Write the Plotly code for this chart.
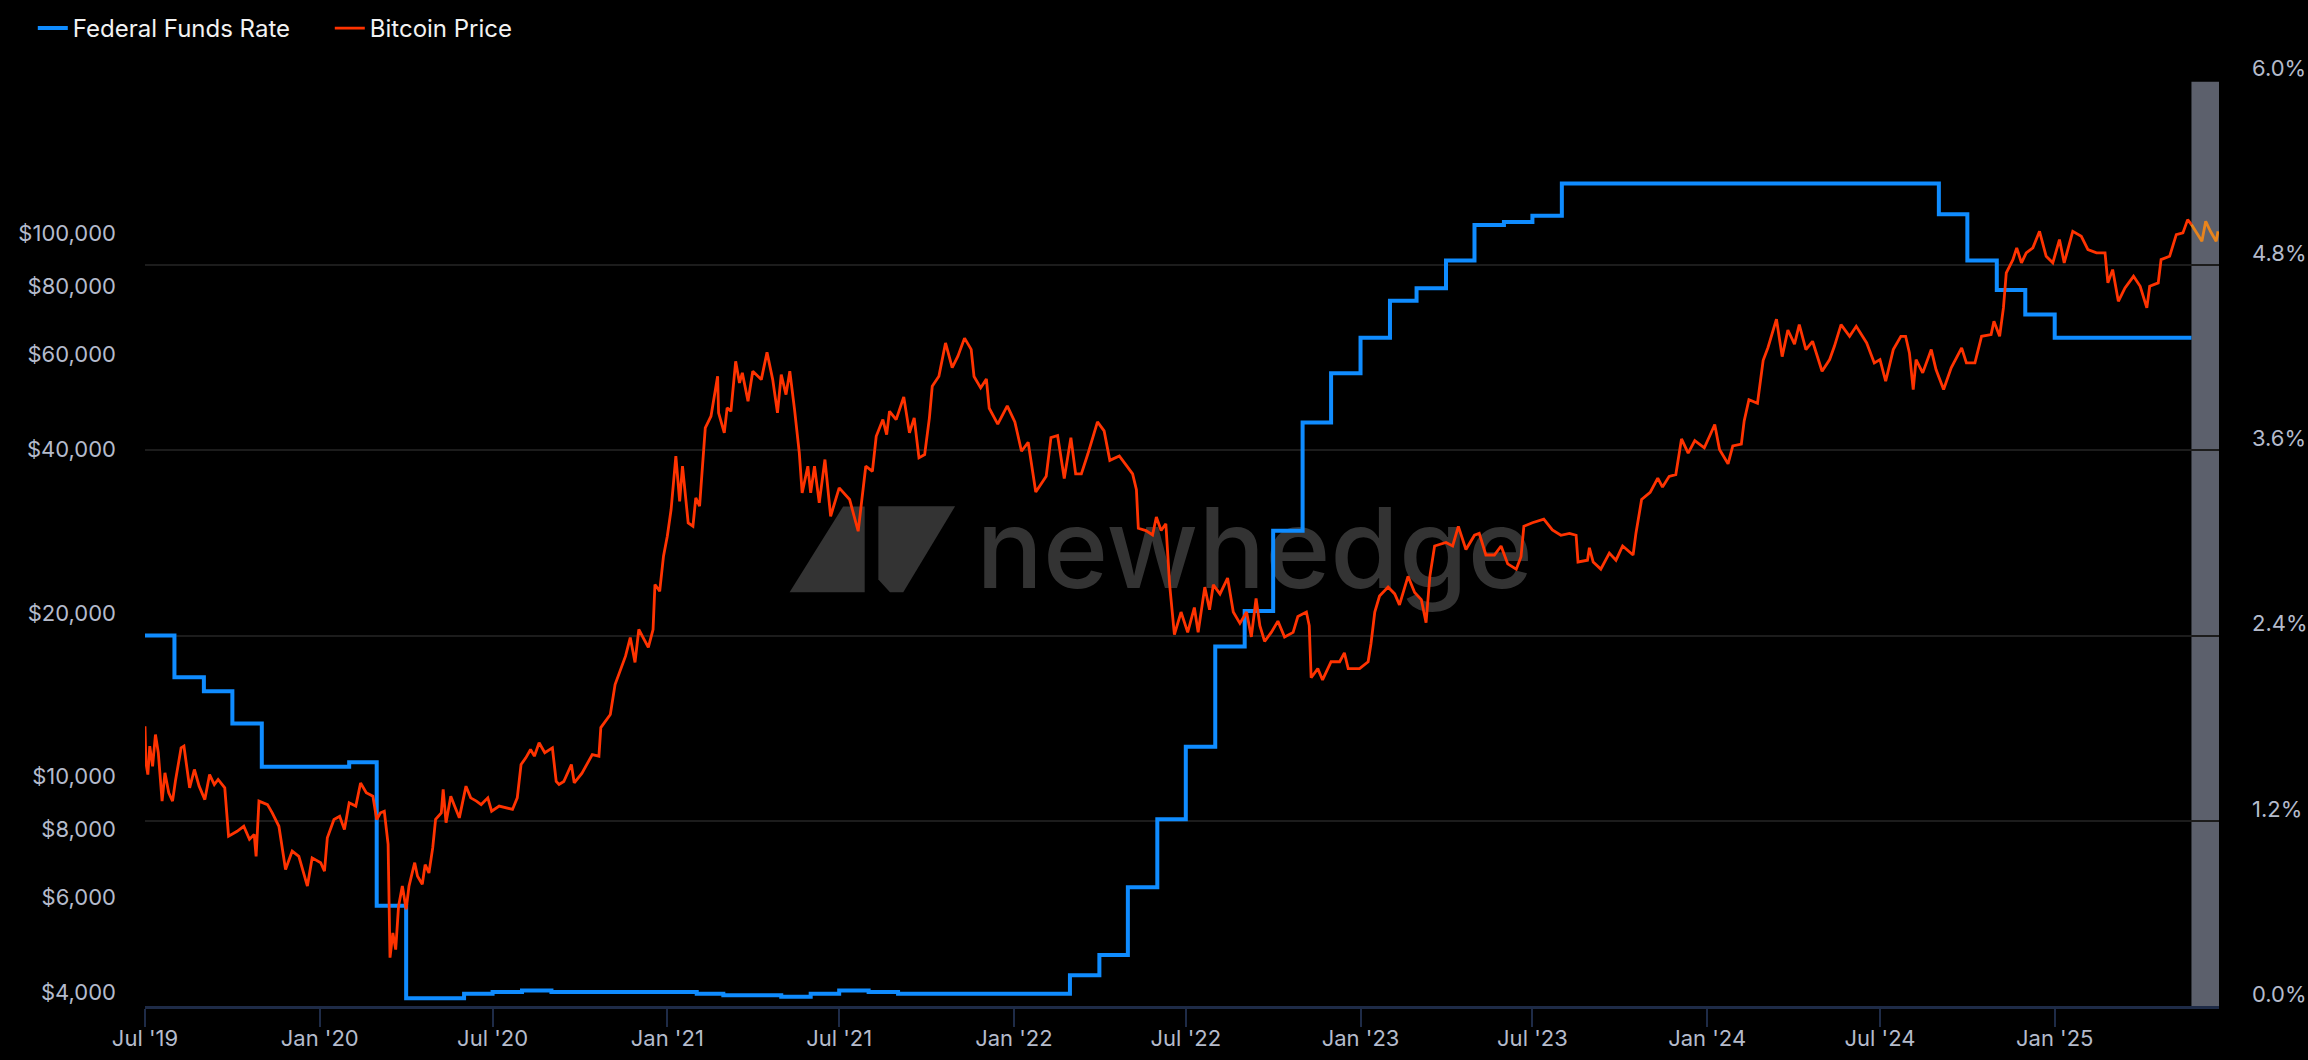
import plotly.graph_objects as go

# ---------------- data ----------------
ffr_dates = [
    "2019-07-01", "2019-08-01", "2019-09-01", "2019-10-01", "2019-11-01", "2019-12-01",
    "2020-01-01", "2020-02-01", "2020-03-01", "2020-04-01", "2020-05-01", "2020-06-01",
    "2020-07-01", "2020-08-01", "2020-09-01", "2020-10-01", "2020-11-01", "2020-12-01",
    "2021-01-01", "2021-02-01", "2021-03-01", "2021-04-01", "2021-05-01", "2021-06-01",
    "2021-07-01", "2021-08-01", "2021-09-01", "2021-10-01", "2021-11-01", "2021-12-01",
    "2022-01-01", "2022-02-01", "2022-03-01", "2022-04-01", "2022-05-01", "2022-06-01",
    "2022-07-01", "2022-08-01", "2022-09-01", "2022-10-01", "2022-11-01", "2022-12-01",
    "2023-01-01", "2023-02-01", "2023-03-01", "2023-04-01", "2023-05-01", "2023-06-01",
    "2023-07-01", "2023-08-01", "2023-09-01", "2023-10-01", "2023-11-01", "2023-12-01",
    "2024-01-01", "2024-02-01", "2024-03-01", "2024-04-01", "2024-05-01", "2024-06-01",
    "2024-07-01", "2024-08-01", "2024-09-01", "2024-10-01", "2024-11-01", "2024-12-01",
    "2025-01-01", "2025-02-01", "2025-03-01", "2025-04-01", "2025-05-01", "2025-05-25",
]
ffr_values = [
    2.40, 2.13, 2.04, 1.83, 1.55, 1.55,
    1.55, 1.58, 0.65, 0.05, 0.05, 0.08,
    0.09, 0.10, 0.09, 0.09, 0.09, 0.09,
    0.09, 0.08, 0.07, 0.07, 0.06, 0.08,
    0.10, 0.09, 0.08, 0.08, 0.08, 0.08,
    0.08, 0.08, 0.20, 0.33, 0.77, 1.21,
    1.68, 2.33, 2.56, 3.08, 3.78, 4.10,
    4.33, 4.57, 4.65, 4.83, 5.06, 5.08,
    5.12, 5.33, 5.33, 5.33, 5.33, 5.33,
    5.33, 5.33, 5.33, 5.33, 5.33, 5.33,
    5.33, 5.33, 5.13, 4.83, 4.64, 4.48,
    4.33, 4.33, 4.33, 4.33, 4.33, 4.33,
]

btc_dates = [
    "2019-07-01", "2019-07-02", "2019-07-04", "2019-07-06", "2019-07-09", "2019-07-12", "2019-07-15",
    "2019-07-19", "2019-07-22", "2019-07-26", "2019-07-30", "2019-08-02", "2019-08-08", "2019-08-11",
    "2019-08-17", "2019-08-22", "2019-08-27", "2019-09-02", "2019-09-07", "2019-09-12", "2019-09-16",
    "2019-09-23", "2019-09-27", "2019-10-06", "2019-10-13", "2019-10-19", "2019-10-24", "2019-10-26",
    "2019-10-29", "2019-11-07", "2019-11-12", "2019-11-19", "2019-11-26", "2019-12-03", "2019-12-10",
    "2019-12-19", "2019-12-24", "2020-01-02", "2020-01-06", "2020-01-09", "2020-01-16", "2020-01-22",
    "2020-01-27", "2020-02-01", "2020-02-08", "2020-02-13", "2020-02-19", "2020-02-26", "2020-03-01",
    "2020-03-05", "2020-03-09", "2020-03-13", "2020-03-15", "2020-03-18", "2020-03-21", "2020-03-24",
    "2020-03-28", "2020-04-01", "2020-04-04", "2020-04-10", "2020-04-13", "2020-04-18", "2020-04-21",
    "2020-04-25", "2020-04-29", "2020-05-02", "2020-05-08", "2020-05-10", "2020-05-13", "2020-05-18",
    "2020-05-22", "2020-05-27", "2020-06-03", "2020-06-08", "2020-06-14", "2020-06-19", "2020-06-26",
    "2020-06-30", "2020-07-08", "2020-07-15", "2020-07-22", "2020-07-27", "2020-07-31", "2020-08-05",
    "2020-08-10", "2020-08-14", "2020-08-19", "2020-08-25", "2020-09-02", "2020-09-06", "2020-09-09",
    "2020-09-14", "2020-09-22", "2020-09-25", "2020-10-03", "2020-10-14", "2020-10-21", "2020-10-23",
    "2020-11-02", "2020-11-07", "2020-11-18", "2020-11-23", "2020-11-28", "2020-12-02", "2020-12-12",
    "2020-12-17", "2020-12-19", "2020-12-24", "2020-12-28", "2021-01-01", "2021-01-05", "2021-01-10",
    "2021-01-14", "2021-01-17", "2021-01-23", "2021-01-28", "2021-01-31", "2021-02-04", "2021-02-07",
    "2021-02-10", "2021-02-16", "2021-02-23", "2021-02-24", "2021-03-02", "2021-03-05", "2021-03-09",
    "2021-03-14", "2021-03-18", "2021-03-21", "2021-03-27", "2021-04-01", "2021-04-10", "2021-04-16",
    "2021-04-22", "2021-04-27", "2021-05-01", "2021-05-06", "2021-05-10", "2021-05-15", "2021-05-20",
    "2021-05-23", "2021-05-29", "2021-06-01", "2021-06-05", "2021-06-10", "2021-06-16", "2021-06-22",
    "2021-07-01", "2021-07-12", "2021-07-21", "2021-07-29", "2021-08-05", "2021-08-09", "2021-08-16",
    "2021-08-20", "2021-08-23", "2021-08-30", "2021-09-07", "2021-09-13", "2021-09-18", "2021-09-23",
    "2021-09-29", "2021-10-04", "2021-10-07", "2021-10-14", "2021-10-21", "2021-10-28", "2021-11-03",
    "2021-11-10", "2021-11-17", "2021-11-20", "2021-11-27", "2021-12-03", "2021-12-06", "2021-12-15",
    "2021-12-25", "2022-01-02", "2022-01-09", "2022-01-16", "2022-01-24", "2022-02-04", "2022-02-09",
    "2022-02-16", "2022-02-23", "2022-03-02", "2022-03-07", "2022-03-13", "2022-03-20", "2022-03-30",
    "2022-04-06", "2022-04-12", "2022-04-22", "2022-04-29", "2022-05-06", "2022-05-10", "2022-05-12",
    "2022-05-20", "2022-05-27", "2022-05-31", "2022-06-05", "2022-06-10", "2022-06-14", "2022-06-19",
    "2022-06-26", "2022-07-03", "2022-07-10", "2022-07-14", "2022-07-21", "2022-07-26", "2022-07-30",
    "2022-08-06", "2022-08-14", "2022-08-20", "2022-08-27", "2022-09-03", "2022-09-08", "2022-09-13",
    "2022-09-17", "2022-09-22", "2022-09-29", "2022-10-06", "2022-10-13", "2022-10-22", "2022-10-27",
    "2022-11-05", "2022-11-08", "2022-11-10", "2022-11-17", "2022-11-22", "2022-12-01", "2022-12-10",
    "2022-12-15", "2022-12-19", "2022-12-31", "2023-01-09", "2023-01-12", "2023-01-16", "2023-01-21",
    "2023-01-30", "2023-02-06", "2023-02-11", "2023-02-20", "2023-02-27", "2023-03-06", "2023-03-11",
    "2023-03-15", "2023-03-20", "2023-04-01", "2023-04-08", "2023-04-14", "2023-04-22", "2023-05-01",
    "2023-05-06", "2023-05-13", "2023-05-22", "2023-05-29", "2023-06-05", "2023-06-14", "2023-06-19",
    "2023-06-22", "2023-07-01", "2023-07-13", "2023-07-22", "2023-07-31", "2023-08-09", "2023-08-16",
    "2023-08-18", "2023-08-28", "2023-08-30", "2023-09-03", "2023-09-11", "2023-09-20", "2023-09-27",
    "2023-10-04", "2023-10-15", "2023-10-18", "2023-10-24", "2023-11-02", "2023-11-10", "2023-11-15",
    "2023-11-22", "2023-11-29", "2023-12-05", "2023-12-12", "2023-12-19", "2023-12-29", "2024-01-04",
    "2024-01-09", "2024-01-14", "2024-01-23", "2024-01-28", "2024-02-06", "2024-02-09", "2024-02-14",
    "2024-02-23", "2024-02-29", "2024-03-05", "2024-03-14", "2024-03-20", "2024-03-26", "2024-04-02",
    "2024-04-07", "2024-04-14", "2024-04-21", "2024-05-01", "2024-05-09", "2024-05-14", "2024-05-21",
    "2024-05-30", "2024-06-06", "2024-06-17", "2024-06-25", "2024-07-01", "2024-07-07", "2024-07-15",
    "2024-07-23", "2024-07-28", "2024-08-01", "2024-08-05", "2024-08-08", "2024-08-15", "2024-08-24",
    "2024-08-29", "2024-09-06", "2024-09-14", "2024-09-25", "2024-09-30", "2024-10-09", "2024-10-16",
    "2024-10-26", "2024-10-29", "2024-11-04", "2024-11-08", "2024-11-11", "2024-11-18", "2024-11-22",
    "2024-11-27", "2024-12-02", "2024-12-09", "2024-12-16", "2024-12-23", "2024-12-30", "2025-01-06",
    "2025-01-11", "2025-01-20", "2025-01-29", "2025-02-05", "2025-02-14", "2025-02-23", "2025-02-26",
    "2025-03-03", "2025-03-09", "2025-03-16", "2025-03-25", "2025-04-01", "2025-04-08", "2025-04-11",
    "2025-04-20", "2025-04-23", "2025-05-02", "2025-05-09", "2025-05-16", "2025-05-21", "2025-05-25",
]
btc_prices = [
    13020, 11150, 10610, 11970, 10990, 12570, 11640,
    9480, 10690, 9820, 9480, 10310, 11880, 11970,
    10030, 10840, 10100, 9540, 10610, 10170, 10390,
    10030, 8170, 8340, 8520, 8060, 8230, 7500,
    9480, 9340, 9020, 8520, 7090, 7670, 7500,
    6610, 7450, 7300, 7040, 8110, 8770, 8890,
    8400, 9410, 9280, 10240, 9820, 9680, 8770,
    9020, 9080, 7890, 4880, 5420, 5050, 6070,
    6610, 5990, 6610, 7300, 6890, 6660, 7240,
    6990, 7780, 8770, 9020, 9960, 8650, 9680,
    9280, 8830, 10100, 9610, 9480, 9340, 9610,
    9080, 9280, 9210, 9150, 9610, 11070, 11390,
    11800, 11470, 12140, 11640, 11880, 10310, 10170,
    10300, 11070, 10240, 10660, 11550, 11470, 12950,
    13690, 15540, 17530, 18970, 17070, 19630, 18190,
    19630, 23760, 23090, 26790, 29160, 32660, 40940,
    33820, 39240, 30860, 30420, 34320, 33120, 38970,
    46180, 48510, 57470, 49210, 45210, 50260, 49540,
    61250, 55880, 58310, 51690, 58700, 56670, 63630,
    56670, 49210, 57890, 53180, 58700, 49900, 41530,
    35050, 39240, 35050, 39240, 33600, 40370, 31740,
    35800, 34070, 29780, 39240, 38410, 44560, 47830,
    44880, 49540, 47830, 52660, 45210, 48180, 40660,
    41230, 48180, 55080, 57470, 66210, 59630, 62590,
    67570, 64420, 57400, 54710, 56840, 50180, 46930,
    50670, 47370, 41810, 43440, 35170, 37620, 44300,
    44710, 37260, 44300, 37980, 37980, 41410, 47370,
    45590, 40230, 41000, 39470, 37980, 35510, 30160,
    29870, 29310, 31640, 29870, 30740, 23730, 19210,
    21140, 19390, 21550, 19390, 23500, 21350, 23730,
    22830, 24420, 21140, 20150, 21140, 19020, 22400,
    19960, 18660, 19390, 20340, 19020, 19390, 20740,
    21140, 19960, 16000, 16630, 15850, 17120, 17120,
    17780, 16630, 16630, 17120, 18480, 21140, 22620,
    23500, 22830, 21790, 24600, 22970, 22290, 20200,
    24600, 27980, 28400, 27980, 30410, 27560, 29280,
    29510, 26930, 26930, 27980, 25930, 25360, 26740,
    30410, 30870, 31350, 29950, 29280, 29510, 29280,
    26140, 26340, 27770, 26140, 25360, 27140, 26340,
    27980, 26930, 29510, 34070, 35110, 37310, 35920,
    37590, 37880, 44070, 41480, 43730, 42440, 44750,
    46830, 42110, 39640, 42760, 43090, 47550, 52060,
    51270, 61510, 64860, 73220, 62460, 69940, 65860,
    71560, 64370, 66670, 58700, 61690, 65270, 71560,
    68100, 71050, 66210, 60830, 61690, 56270, 64370,
    68100, 68100, 63470, 54320, 61690, 58310, 64370,
    59130, 54320, 59550, 64830, 60830, 60830, 68100,
    68590, 72570, 68100, 76820, 89110, 94280, 99080,
    92980, 97000, 99080, 106300, 95610, 92980, 102620,
    92980, 106300, 104070, 98370, 97000, 97000, 85410,
    90360, 79000, 83620, 87830, 84190, 76820, 84190,
    85410, 94280, 95610, 104820, 105580, 111710, 109370,
]

btc_recent_dates = ["2025-05-25", "2025-06-01", "2025-06-05", "2025-06-09", "2025-06-14", "2025-06-20", "2025-06-22"]
btc_recent_prices = [109370, 104820, 101890, 110910, 106300, 101890, 106300]

x_range = ["2019-07-01", "2025-06-23"]
recent_window_start = "2025-05-25"

x_tick_vals = ["2019-07-01", "2020-01-01", "2020-07-01", "2021-01-01", "2021-07-01", "2022-01-01",
               "2022-07-01", "2023-01-01", "2023-07-01", "2024-01-01", "2024-07-01", "2025-01-01"]
x_tick_text = ["Jul '19", "Jan '20", "Jul '20", "Jan '21", "Jul '21", "Jan '22",
               "Jul '22", "Jan '23", "Jul '23", "Jan '24", "Jul '24", "Jan '25"]
usd_tick_vals = [4000, 6000, 8000, 10000, 20000, 40000, 60000, 80000, 100000]
usd_tick_text = ["$4,000", "$6,000", "$8,000", "$10,000", "$20,000", "$40,000", "$60,000", "$80,000", "$100,000"]
pct_tick_vals = [0, 1.2, 2.4, 3.6, 4.8, 6.0]
pct_tick_text = ["0.0%", "1.2%", "2.4%", "3.6%", "4.8%", "6.0%"]

# ---------------- styles ----------------
BLUE = "#0f8cff"
RED = "#ff3300"
ORANGE = "#e8841c"
TICK_COLOR = "#b4bbcc"
AXIS_NAVY = "#1e2b47"
GRID = "#1c1c1c"
FONT = "Inter"

fig = go.Figure()
fig.add_trace(go.Scatter(
    x=ffr_dates, y=ffr_values, name="Federal Funds Rate", mode="lines",
    line=dict(color=BLUE, width=4, shape="hv"), yaxis="y", hoverinfo="skip",
))
fig.add_trace(go.Scatter(
    x=btc_dates, y=btc_prices, name="Bitcoin Price", mode="lines",
    line=dict(color=RED, width=2.8), yaxis="y2", hoverinfo="skip",
))
fig.add_trace(go.Scatter(
    x=btc_recent_dates, y=btc_recent_prices, name="Bitcoin Price", mode="lines",
    line=dict(color=ORANGE, width=2.8), yaxis="y2", showlegend=False, hoverinfo="skip",
))

tickfont = dict(family=FONT, size=22, color=TICK_COLOR)

# watermark logo (paper coordinates)
logo_left = "M 0.3108,0.4469 L 0.3470,0.4469 L 0.3470,0.5394 L 0.3366,0.5394 Z"
logo_right = "M 0.3536,0.5397 L 0.3906,0.5397 L 0.3656,0.4469 L 0.3592,0.4469 L 0.3536,0.4606 Z"

shapes = [
    dict(type="rect", xref="x", yref="paper", x0=recent_window_start, x1=x_range[1], y0=0, y1=0.998,
         fillcolor="#5c606c", line=dict(width=0), layer="below"),
    dict(type="path", xref="paper", yref="paper", path=logo_left, fillcolor="#333333",
         line=dict(width=0), layer="below"),
    dict(type="path", xref="paper", yref="paper", path=logo_right, fillcolor="#333333",
         line=dict(width=0), layer="below"),
    dict(type="rect", xref="paper", yref="paper", x0=0.400, x1=0.670, y0=0.4385, y1=0.5585,
         line=dict(width=0), fillcolor="rgba(0,0,0,0)", layer="below",
         label=dict(text="newhedge", textposition="middle center",
                    font=dict(family=FONT, size=111, color="#333333", weight=500))),
]

fig.update_layout(
    width=2308, height=1060,
    paper_bgcolor="#000000", plot_bgcolor="#000000",
    margin=dict(l=145, r=89, t=80, b=54, pad=0, autoexpand=False),
    font=dict(family=FONT, color=TICK_COLOR),
    showlegend=True,
    legend=dict(orientation="h", x=-0.0541, xanchor="left", y=1.0556, yanchor="middle",
                font=dict(family=FONT, size=24, color="#f2f2f2"), bgcolor="rgba(0,0,0,0)",
                traceorder="normal", entrywidth=252, entrywidthmode="pixels"),
    xaxis=dict(type="date", range=x_range, tickmode="array", tickvals=x_tick_vals, ticktext=x_tick_text,
               ticks="outside", ticklen=18, tickwidth=1.5, tickcolor=AXIS_NAVY,
               showline=True, linecolor=AXIS_NAVY, linewidth=2.5, showgrid=False, zeroline=False,
               tickfont=tickfont, automargin=False, ticklabelstandoff=-7),
    yaxis=dict(side="right", range=[0, 6.0], tickmode="array", tickvals=pct_tick_vals, ticktext=pct_tick_text,
               showgrid=True, gridcolor=GRID, gridwidth=1.5, zeroline=False, showline=False,
               ticks="", tickfont=tickfont, ticklabelshift=-12, ticklabelstandoff=32, automargin=False),
    yaxis2=dict(overlaying="y", side="left", type="log", range=[3.5993, 5.3053], tickmode="array",
                tickvals=usd_tick_vals, ticktext=usd_tick_text, showgrid=False, zeroline=False,
                showline=False, ticks="", tickfont=tickfont, ticklabelshift=-12, ticklabelstandoff=28,
                automargin=False),
    shapes=shapes,
    hovermode=False,
)

fig.write_html(
    "out.html",
    config={"displayModeBar": False},
    post_script="document.body.style.margin='0';document.body.style.overflow='hidden';",
)
